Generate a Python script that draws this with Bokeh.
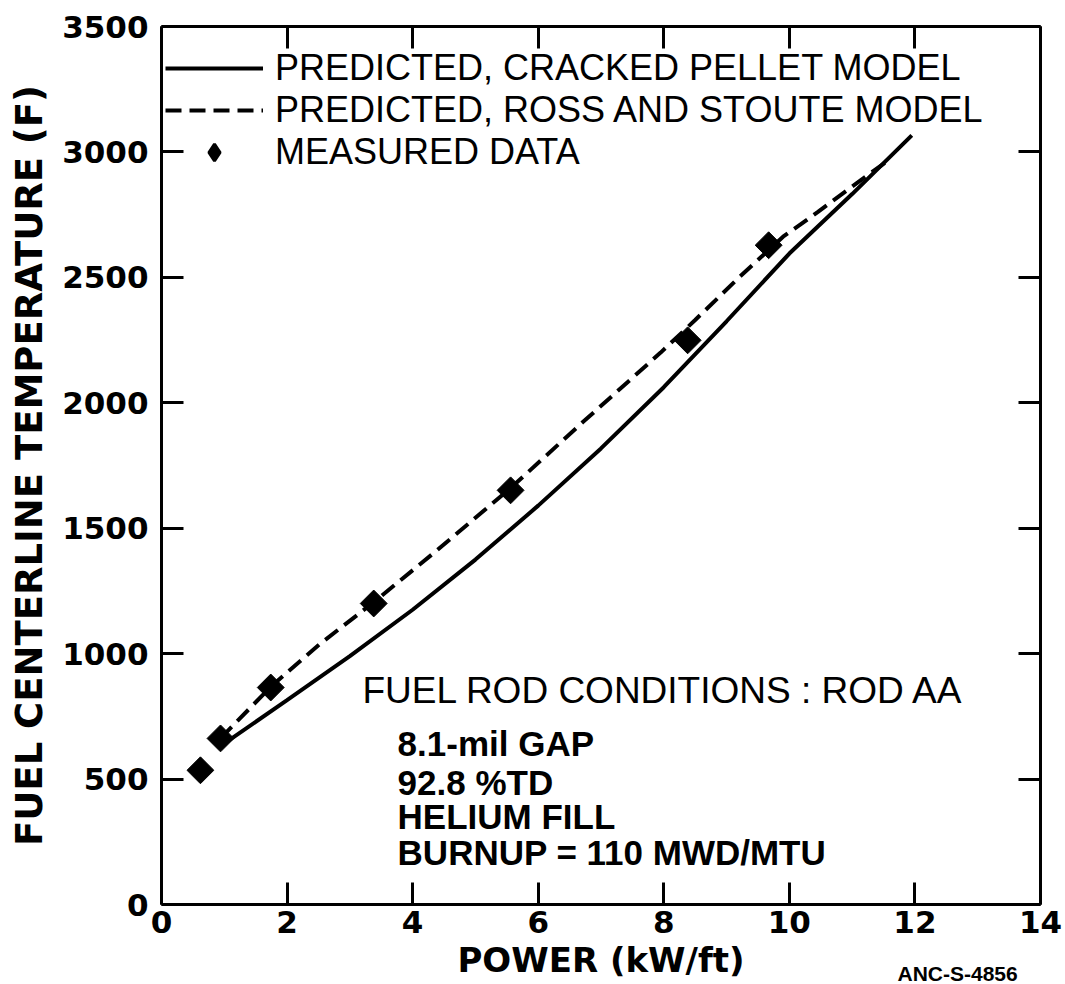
import numpy as np
from bokeh.plotting import figure
from bokeh.models import LinearAxis, Legend, LegendItem, Label, FixedTicker, Range1d
from bokeh.embed import file_html
from bokeh.resources import INLINE
from bokeh.core.properties import value

# ---- data ----
x_ticks = [0, 2, 4, 6, 8, 10, 12, 14]
y_ticks = [0, 500, 1000, 1500, 2000, 2500, 3000, 3500]

cracked_x = [1.05, 2.0, 3.0, 4.0, 5.0, 6.0, 7.0, 8.0, 9.0, 10.0, 11.0, 11.95]
cracked_y = [650, 815, 990, 1175, 1375, 1590, 1818, 2062, 2325, 2595, 2832, 3066]

ross_x = [0.94, 1.74, 2.53, 3.38, 4.33, 5.56, 6.72, 7.95, 8.5, 9.2, 9.9, 10.45, 11.15, 11.6]
ross_y = [662, 868, 1040, 1205, 1400, 1660, 1925, 2200, 2330, 2500, 2662, 2760, 2890, 2970]

meas_x = [0.62, 0.94, 1.74, 3.38, 5.56, 8.38, 9.67]
meas_y = [535, 662, 865, 1200, 1651, 2249, 2628]

legend_labels = ["PREDICTED, CRACKED PELLET MODEL",
                 "PREDICTED, ROSS AND STOUTE MODEL",
                 "MEASURED DATA"]
cond_title = "FUEL ROD CONDITIONS : ROD AA"
cond_lines = ["8.1-mil GAP", "92.8 %TD", "HELIUM  FILL", "BURNUP = 110 MWD/MTU"]
figure_id = "ANC-S-4856"

# ---- layout constants ----
cond_title_pos = (3.2, 853)
cond_lines_x = 3.76
cond_lines_y = [642, 486, 351, 207]
figure_id_pos = (12.68, -275)

p = figure(width=1065, height=984,
           x_range=Range1d(0, 14), y_range=Range1d(0, 3500),
           output_backend="svg", toolbar_location=None,
           min_border_left=161, min_border_right=25,
           min_border_top=26, min_border_bottom=80)
p.xgrid.visible = False
p.ygrid.visible = False
p.outline_line_color = None
p.background_fill_color = "white"
p.border_fill_color = "white"

TICK_FONT = "DejaVu Sans"

def style_axis(ax, ticks, show_labels):
    ax.ticker = FixedTicker(ticks=ticks)
    ax.major_tick_in = 22
    ax.major_tick_out = 0
    ax.minor_tick_line_color = None
    ax.axis_line_width = 3
    ax.axis_line_color = "black"
    ax.major_tick_line_width = 3
    ax.major_tick_line_color = "black"
    if show_labels:
        ax.major_label_text_font = TICK_FONT
        ax.major_label_text_font_style = "bold"
        ax.major_label_text_font_size = "31px"
        ax.major_label_text_color = "black"
    else:
        ax.major_label_text_color = None
        ax.major_label_text_font_size = "1px"
        ax.major_label_standoff = 0

xa = p.xaxis[0]
style_axis(xa, x_ticks, True)
xa.major_label_standoff = 6
xa.axis_label = "POWER (kW/ft)"
xa.axis_label_text_font = "DejaVu Sans"
xa.axis_label_text_font_style = "bold"
xa.axis_label_text_font_size = "34px"
xa.axis_label_text_color = "black"
xa.axis_label_standoff = 4

ya = p.yaxis[0]
style_axis(ya, y_ticks, True)
ya.major_label_standoff = 13
ya.axis_label = "FUEL CENTERLINE TEMPERATURE (F)"
ya.axis_label_text_font = "DejaVu Sans"
ya.axis_label_text_font_style = "bold"
ya.axis_label_text_font_size = "37px"
ya.axis_label_text_color = "black"
ya.axis_label_standoff = 8

top = LinearAxis()
style_axis(top, x_ticks, False)
p.add_layout(top, "above")
right = LinearAxis()
style_axis(right, y_ticks, False)
p.add_layout(right, "right")

r_crack = p.line(cracked_x, cracked_y, line_color="black", line_width=4)
r_ross = p.line(ross_x, ross_y, line_color="black", line_width=4, line_dash="16 8")
# legend key for the measured points: a diamond marker drawn beneath the (larger)
# rotated-square markers, because the legend does not rotate markers
r_key = p.scatter(meas_x, meas_y, marker="diamond", size=20,
                  fill_color="black", line_color="black", line_width=3)
r_meas = p.scatter(meas_x, meas_y, marker="square", angle=np.pi / 4, size=19,
                   fill_color="black", line_color="black")

legend = Legend(items=[LegendItem(label=legend_labels[0], renderers=[r_crack]),
                       LegendItem(label=legend_labels[1], renderers=[r_ross]),
                       LegendItem(label=legend_labels[2], renderers=[r_key])],
                location=(4, 731), glyph_width=98, glyph_height=42, label_height=42,
                label_standoff=12, spacing=0, padding=0, margin=0,
                border_line_alpha=0, background_fill_alpha=0,
                label_text_font="Liberation Sans", label_text_font_size="36px",
                label_text_color="black")
p.add_layout(legend)

p.text(x=[cond_title_pos[0]], y=[cond_title_pos[1]], text=[cond_title],
       text_font=value("Liberation Sans"), text_font_size="37px",
       text_baseline="middle", text_align="left", text_color="black")
p.text(x=[cond_lines_x] * len(cond_lines), y=cond_lines_y, text=cond_lines,
       text_font=value("Liberation Sans"), text_font_style="bold", text_font_size="35px",
       text_baseline="middle", text_align="left", text_color="black")

# figure identifier below the plot (side-panel annotation so it is not clipped)
p.add_layout(Label(x=figure_id_pos[0], y=figure_id_pos[1], text=figure_id,
                   text_font="Liberation Sans", text_font_style="bold",
                   text_font_size="21px", text_align="center", text_baseline="middle",
                   text_color="black"), "above")

open("out.html", "w").write(file_html(p, INLINE))
